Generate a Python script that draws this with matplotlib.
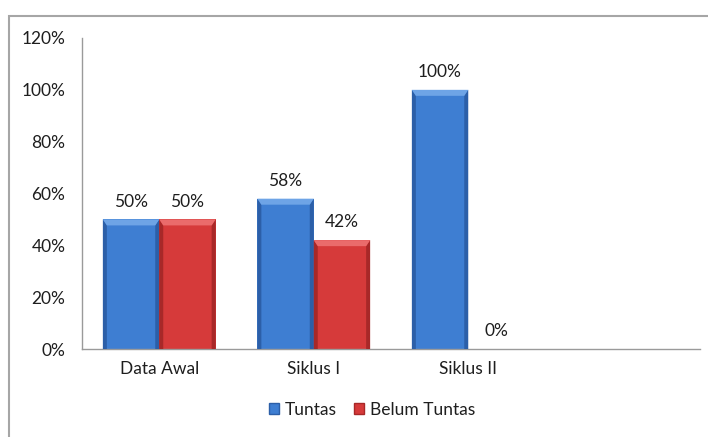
import matplotlib
matplotlib.use("Agg")
import matplotlib.pyplot as plt
import matplotlib.patches as mpatches
from matplotlib.ticker import FuncFormatter
import numpy as np

plt.rcParams["font.family"] = ["Lato", "DejaVu Sans"]

categories = ["Data Awal", "Siklus I", "Siklus II", ""]
tuntas = [0.50, 0.58, 1.00, np.nan]
belum_tuntas = [0.50, 0.42, 0.00, np.nan]
series_names = ["Tuntas", "Belum Tuntas"]

# (main, top bevel, side bevel)
BLUE = ("#3e7ed2", "#6ea4e6", "#2c5fa8")
RED = ("#d63a3a", "#ea6b6b", "#a82828")
TEXT = "#1e1e1e"
FS = 12.5


def bevel_bar(ax, rect, colors, side_px=4, top_px=6):
    """Overlay a simple Excel-like bevel on one bar."""
    main, top, side = colors
    x, y0 = rect.get_x(), rect.get_y()
    w, h = rect.get_width(), rect.get_height()
    if not h or np.isnan(h):
        return
    # convert pixel sizes to data units
    inv = ax.transData.inverted()
    p0 = inv.transform((0, 0))
    p1 = inv.transform((side_px, top_px))
    dx, dy = p1[0] - p0[0], p1[1] - p0[1]
    dy = min(dy, h * 0.5)
    # left / right darker strips
    ax.add_patch(mpatches.Polygon([(x, y0), (x + dx, y0), (x + dx, y0 + h - dy), (x, y0 + h)],
                                  closed=True, facecolor=side, edgecolor="none", zorder=3))
    ax.add_patch(mpatches.Polygon([(x + w, y0), (x + w - dx, y0), (x + w - dx, y0 + h - dy), (x + w, y0 + h)],
                                  closed=True, facecolor=side, edgecolor="none", zorder=3))
    # top lighter strip
    ax.add_patch(mpatches.Polygon([(x, y0 + h), (x + w, y0 + h), (x + w - dx, y0 + h - dy), (x + dx, y0 + h - dy)],
                                  closed=True, facecolor=top, edgecolor="none", zorder=3))


fig = plt.figure(figsize=(7.08, 4.37), dpi=100)
fig.patch.set_facecolor("white")

# outer chart frame
fig.patches.append(mpatches.Rectangle((9 / 708, -0.1), 1.2, 1.1 - 16 / 437,
                                      transform=fig.transFigure, fill=False,
                                      edgecolor="#a6a6a6", linewidth=1.5))

ax = fig.add_axes([82 / 708, 1 - 349 / 437, (700 - 82) / 708, (349 - 38) / 437])

x = np.arange(len(categories))
w = 0.365
bars_t = ax.bar(x - w / 2, tuntas, w, color=BLUE[0], zorder=2, label=series_names[0])
bars_b = ax.bar(x + w / 2, belum_tuntas, w, color=RED[0], zorder=2, label=series_names[1])

ax.set_xlim(-0.5, len(categories) - 0.5)
ax.set_ylim(0, 1.2)
ax.set_yticks(np.arange(0, 1.21, 0.2))
ax.yaxis.set_major_formatter(FuncFormatter(lambda v, _: f"{v * 100:.0f}%"))
ax.set_xticks(x[:3])
ax.set_xticklabels(categories[:3])

for s in ["top", "right"]:
    ax.spines[s].set_visible(False)
for s in ["left", "bottom"]:
    ax.spines[s].set_color("#9a9a9a")
    ax.spines[s].set_linewidth(1.0)
ax.tick_params(axis="y", length=0, pad=12, labelsize=FS, labelcolor=TEXT)
ax.tick_params(axis="x", length=0, pad=9, labelsize=FS, labelcolor=TEXT)

fig.canvas.draw()
for bars, cols in ((bars_t, BLUE), (bars_b, RED)):
    for rect in bars:
        bevel_bar(ax, rect, cols)
        h = rect.get_height()
        if np.isnan(h):
            continue
        ax.annotate(f"{h * 100:.0f}%", (rect.get_x() + rect.get_width() / 2, h),
                    xytext=(0, 7), textcoords="offset points", ha="center", va="bottom",
                    fontsize=FS, color=TEXT)

handles = [mpatches.Patch(facecolor=BLUE[0], edgecolor=BLUE[2], linewidth=1),
           mpatches.Patch(facecolor=RED[0], edgecolor=RED[2], linewidth=1)]
fig.legend(handles, series_names, loc="center", bbox_to_anchor=(372 / 708, 1 - 410 / 437),
           ncol=2, frameon=False, fontsize=FS, handlelength=0.6, handleheight=0.6,
           handletextpad=0.3, columnspacing=1.0, labelcolor=TEXT)

fig.savefig("out.png", dpi=100, facecolor="white")
